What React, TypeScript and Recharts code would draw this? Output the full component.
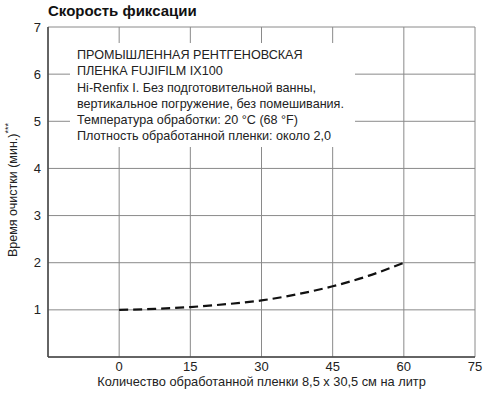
import React from 'react';
import { LineChart, Line, XAxis, YAxis, CartesianGrid, Label } from 'recharts';

// film processed per litre (8.5 x 30.5 cm sheets)
const filmCount = [0, 7.5, 15, 22.5, 30, 37.5, 45, 52.5, 60];
// clearing time, minutes
const clearTime = [1.0, 1.02, 1.06, 1.12, 1.2, 1.33, 1.5, 1.72, 2.0];

const xTicks = [0, 15, 30, 45, 60, 75];
const yTicks = [1, 2, 3, 4, 5, 6, 7];

const noteLines = [
  'ПРОМЫШЛЕННАЯ РЕНТГЕНОВСКАЯ',
  'ПЛЕНКА FUJIFILM IX100',
  'Hi-Renfix I. Без подготовительной ванны,',
  'вертикальное погружение, без помешивания.',
  'Температура обработки: 20 °C (68 °F)',
  'Плотность обработанной пленки: около 2,0',
];

const data = filmCount.map((x, i) => ({ x, t: clearTime[i] }));

const font = '"Liberation Sans", Arial, sans-serif';

export default function App() {
  return (
    <div style={{ position: 'absolute', left: 0, top: 0, width: 499, height: 397, background: '#fff', fontFamily: font }}>
      <LineChart width={499} height={397} data={data} margin={{ top: 27, right: 24, bottom: 0, left: 0 }}>
        <CartesianGrid stroke="#8a8a8a" strokeWidth={1} />
        <XAxis
          dataKey="x"
          type="number"
          domain={[-15, 75]}
          ticks={xTicks}
          height={40}
          tickLine={false}
          tickSize={0}
          tickMargin={5}
          axisLine={{ stroke: '#444', strokeWidth: 1.5 }}
          tick={{ fill: '#222', fontSize: 13, fontFamily: font }}
        >
          <Label
            value="Количество обработанной пленки 8,5 x 30,5 см на литр"
            position="insideBottom"
            offset={11}
            fill="#222"
            fontSize={12.8}
            fontFamily={font}
          />
        </XAxis>
        <YAxis
          type="number"
          domain={[0, 7]}
          ticks={yTicks}
          width={48}
          tickLine={false}
          tickSize={0}
          tickMargin={7}
          axisLine={{ stroke: '#444', strokeWidth: 1.5 }}
          tick={{ fill: '#222', fontSize: 13, fontFamily: font }}
        />
        <Line
          type="monotone"
          dataKey="t"
          stroke="#111"
          strokeWidth={2.2}
          strokeDasharray="9 5"
          dot={false}
          isAnimationActive={false}
        />
      </LineChart>
      <svg style={{ position: 'absolute', left: 0, top: 0 }} width={30} height={397}>
        <text
          x={13}
          y={190}
          transform="rotate(-90 13 190)"
          textAnchor="middle"
          dominantBaseline="central"
          fontSize={12.5}
          fill="#222"
          fontFamily={font}
        >
          Время очистки (мин.)
          <tspan fontSize={9} dy={-5}>***</tspan>
        </text>
      </svg>
      <div
        style={{
          position: 'absolute',
          left: 48,
          top: 2,
          fontSize: 15,
          fontWeight: 'bold',
          color: '#111',
          lineHeight: '18px',
        }}
      >
        Скорость фиксации
      </div>
      <div
        style={{
          position: 'absolute',
          left: 70,
          top: 43,
          width: 285,
          height: 104,
          background: '#fff',
          boxSizing: 'border-box',
          padding: '4px 0 0 7px',
          fontSize: 12.6,
          lineHeight: '16.3px',
          color: '#222',
          whiteSpace: 'nowrap',
        }}
      >
        {noteLines.map((l) => (
          <div key={l}>{l}</div>
        ))}
      </div>
    </div>
  );
}
